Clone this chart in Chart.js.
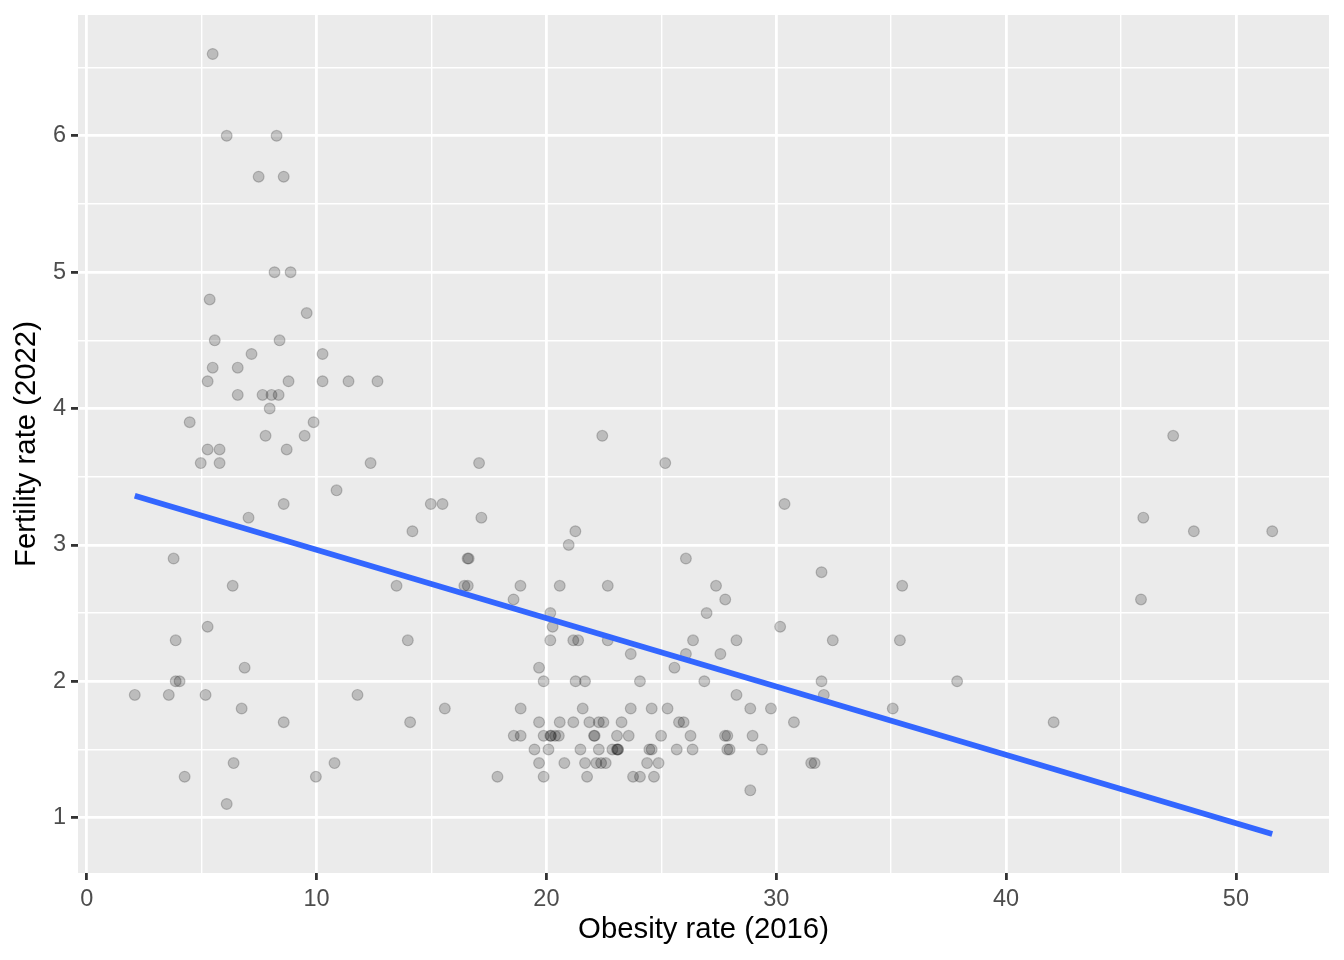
<!DOCTYPE html>
<html>
<head>
<meta charset="utf-8">
<script src="https://cdn.jsdelivr.net/npm/chart.js@4/dist/chart.umd.min.js"></script>
<style>
  html, body { margin: 0; padding: 0; background: #ffffff; }
  #plot { display: block; }
</style>
</head>
<body>
<canvas id="plot" width="1344" height="960"></canvas>
<script>
// obesity rate 2016 (x) and fertility rate 2022 (y), one country per index
const obesity = [
  5.48, 6.09, 8.26, 7.48, 8.57, 8.17, 8.87, 5.35, 9.57, 5.57,
  8.39, 7.17, 10.26, 5.48, 6.57, 5.26, 8.78, 10.26, 11.39, 12.65,
  6.57, 7.65, 8.04, 8.35, 7.96, 4.48, 9.87, 7.78, 9.48, 5.26,
  5.78, 8.70, 4.96, 5.78, 12.35, 10.87, 8.57, 7.04, 3.78, 6.35,
  5.26, 3.87, 6.87, 3.87, 4.04, 2.09, 3.57, 5.17, 6.74, 8.57,
  6.39, 4.26, 6.09, 10.78, 9.97,
  17.07, 14.97, 15.48, 17.17, 14.17, 21.26, 20.97, 16.57, 16.62, 13.48,
  16.43, 16.58, 18.87, 20.58, 22.67, 18.57, 20.17, 20.27, 13.97, 20.17,
  21.17, 21.38, 22.67, 23.67, 19.68, 19.88, 21.27, 21.68, 24.07, 11.78,
  15.58, 18.88, 21.58, 23.67, 24.58, 25.27, 14.07, 19.68, 20.58, 21.17,
  21.87, 22.28, 22.48, 23.27, 18.58, 18.88, 19.88, 20.17, 20.2, 20.38,
  20.54, 22.07, 22.1, 23.07, 23.58, 24.99, 19.48, 20.09, 21.48, 22.28,
  22.87, 23.07, 23.1, 23.12, 24.48, 24.58, 19.68, 20.78, 21.68, 22.17,
  22.38, 22.58, 24.38, 24.88, 17.87, 19.88, 21.77, 23.77, 24.07, 24.68,
  22.43,
  25.17, 30.36, 26.07, 31.97, 27.38, 27.78, 26.97, 30.17, 26.38, 28.27,
  32.46, 26.07, 27.57, 25.57, 26.87, 31.97, 28.27, 32.07, 28.87, 29.77,
  25.77, 25.97, 30.77, 26.27, 27.77, 27.87, 28.97, 25.67, 26.36, 27.87,
  27.97, 29.38, 31.52, 31.67, 28.87, 47.27, 45.97, 48.17, 51.58, 35.48,
  45.87, 35.38, 37.87, 35.07, 42.07
];
const fertility = [
  6.6, 6.0, 6.0, 5.7, 5.7, 5.0, 5.0, 4.8, 4.7, 4.5,
  4.5, 4.4, 4.4, 4.3, 4.3, 4.2, 4.2, 4.2, 4.2, 4.2,
  4.1, 4.1, 4.1, 4.1, 4.0, 3.9, 3.9, 3.8, 3.8, 3.7,
  3.7, 3.7, 3.6, 3.6, 3.6, 3.4, 3.3, 3.2, 2.9, 2.7,
  2.4, 2.3, 2.1, 2.0, 2.0, 1.9, 1.9, 1.9, 1.8, 1.7,
  1.4, 1.3, 1.1, 1.4, 1.3,
  3.6, 3.3, 3.3, 3.2, 3.1, 3.1, 3.0, 2.9, 2.9, 2.7,
  2.7, 2.7, 2.7, 2.7, 2.7, 2.6, 2.5, 2.4, 2.3, 2.3,
  2.3, 2.3, 2.3, 2.2, 2.1, 2.0, 2.0, 2.0, 2.0, 1.9,
  1.8, 1.8, 1.8, 1.8, 1.8, 1.8, 1.7, 1.7, 1.7, 1.7,
  1.7, 1.7, 1.7, 1.7, 1.6, 1.6, 1.6, 1.6, 1.6, 1.6,
  1.6, 1.6, 1.6, 1.6, 1.6, 1.6, 1.5, 1.5, 1.5, 1.5,
  1.5, 1.5, 1.5, 1.5, 1.5, 1.5, 1.4, 1.4, 1.4, 1.4,
  1.4, 1.4, 1.4, 1.4, 1.3, 1.3, 1.3, 1.3, 1.3, 1.3,
  3.8,
  3.6, 3.3, 2.9, 2.8, 2.7, 2.6, 2.5, 2.4, 2.3, 2.3,
  2.3, 2.2, 2.2, 2.1, 2.0, 2.0, 1.9, 1.9, 1.8, 1.8,
  1.7, 1.7, 1.7, 1.6, 1.6, 1.6, 1.6, 1.5, 1.5, 1.5,
  1.5, 1.5, 1.4, 1.4, 1.2, 3.8, 3.2, 3.1, 3.1, 2.7,
  2.6, 2.3, 2.0, 1.8, 1.7
];

// linear fit, ends
const fitX = [2.09, 51.58];
const fitY = [3.36, 0.88];

const xTicks = [0, 10, 20, 30, 40, 50];
const xGrid = [0, 5, 10, 15, 20, 25, 30, 35, 40, 45, 50];
const yTicks = [1, 2, 3, 4, 5, 6];
const yGrid = [1, 1.5, 2, 2.5, 3, 3.5, 4, 4.5, 5, 5.5, 6, 6.5];

const FONT = "'Liberation Sans', Arial, Helvetica, sans-serif";

const panelBg = {
  id: "panelBg",
  beforeDraw(chart) {
    const { ctx, chartArea: a } = chart;
    ctx.save();
    ctx.fillStyle = "#EBEBEB";
    ctx.fillRect(a.left, a.top, a.right - a.left, a.bottom - a.top);
    ctx.restore();
  },
};

function gridAxis(grid, major, title, size) {
  return {
    type: "linear",
    afterBuildTicks: (axis) => {
      axis.ticks = grid.map((v) => ({ value: v }));
    },
    afterFit: (axis) => {
      // fixed box size, and no extra room for end labels
      if (axis.isHorizontal()) axis.height = size;
      else axis.width = size;
      axis.paddingTop = 0;
      axis.paddingBottom = 0;
      axis.paddingLeft = 0;
      axis.paddingRight = 0;
    },
    border: { display: false },
    grid: {
      color: "#FFFFFF",
      lineWidth: (c) => (major.includes(c.tick.value) ? 2.8 : 1.4),
      drawTicks: true,
      tickLength: 7,
      tickWidth: 2.8,
      tickColor: (c) => (major.includes(c.tick.value) ? "#333333" : "rgba(0,0,0,0)"),
    },
    ticks: {
      autoSkip: false,
      maxRotation: 0,
      color: "#4D4D4D",
      font: { family: FONT, size: 23.5 },
      padding: 5,
      callback: (v) => (major.includes(v) ? String(v) : ""),
    },
    title: {
      display: true,
      text: title,
      color: "#000000",
      font: { family: FONT, size: 29.3 },
      padding: { top: 9, bottom: 13 },
    },
  };
}

const xScale = gridAxis(xGrid, xTicks, "Obesity rate (2016)", 87);
xScale.min = -0.38;
xScale.max = 54.05;
const yScale = gridAxis(yGrid, yTicks, "Fertility rate (2022)", 78);
yScale.min = 0.594;
yScale.max = 6.886;

new Chart(document.getElementById("plot"), {
  type: "scatter",
  data: {
    datasets: [
      {
        label: "fit",
        data: fitX.map((x, i) => ({ x, y: fitY[i] })),
        showLine: true,
        borderColor: "#3366FF",
        borderWidth: 5.7,
        pointRadius: 0,
        order: 0,
      },
      {
        label: "countries",
        data: obesity.map((x, i) => ({ x, y: fertility[i] })),
        backgroundColor: "rgba(0,0,0,0.2)",
        borderColor: "rgba(0,0,0,0.2)",
        borderWidth: 1.2,
        pointRadius: 5.4,
        order: 1,
      },
    ],
  },
  options: {
    responsive: false,
    animation: false,
    layout: { padding: { left: 0, top: 15, right: 15, bottom: 0 } },
    plugins: {
      legend: { display: false },
      tooltip: { enabled: false },
    },
    scales: { x: xScale, y: yScale },
  },
  plugins: [panelBg],
});
</script>
</body>
</html>
